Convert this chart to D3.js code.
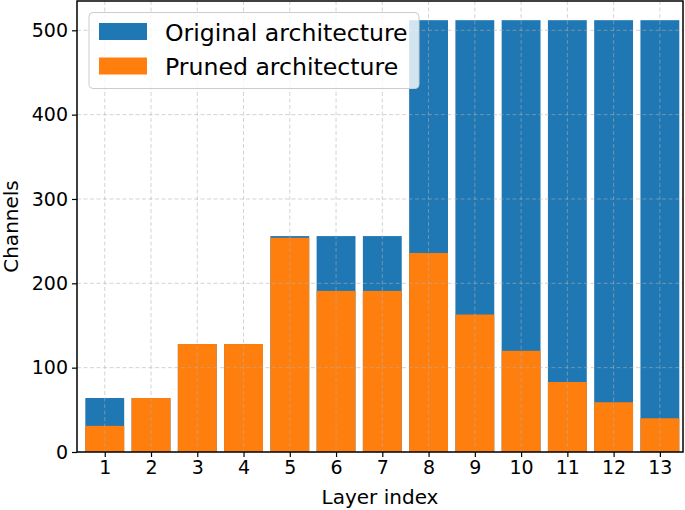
<!DOCTYPE html>
<html>
<head>
<meta charset="utf-8">
<script src="https://cdn.jsdelivr.net/npm/d3@7"></script>
<style>
  body { margin: 0; background: #fff; }
  text { font-family: "DejaVu Sans", sans-serif; }
</style>
</head>
<body>
<div id="chart"></div>
<script>
// data
const layers = [1, 2, 3, 4, 5, 6, 7, 8, 9, 10, 11, 12, 13]
const original = [64, 64, 128, 128, 256, 256, 256, 512, 512, 512, 512, 512, 512]
const pruned = [31, 64, 128, 128, 254, 191, 191, 236, 163, 120, 83, 59, 40]
const yTicks = [0, 100, 200, 300, 400, 500]
const legendLabels = ["Original architecture", "Pruned architecture"]
const colors = ["#1f77b4", "#ff7f0e"]

const width = 685, height = 510
const plotLeft = 77, plotRight = 683, plotTop = 1, plotBottom = 452

const svg = d3.select("#chart").append("svg")
    .attr("width", width)
    .attr("height", height)

const x = d3.scaleLinear().domain([0.4, 13.5]).range([plotLeft, plotRight])
const y = d3.scaleLinear().domain([0, 500]).range([plotBottom, 30.3])
const barW = (x(2) - x(1)) * 0.84

// original bars
svg.append("g").selectAll("rect")
    .data(layers)
    .join("rect")
    .attr("x", (d) => x(d) - barW / 2)
    .attr("y", (d, i) => y(original[i]))
    .attr("width", barW)
    .attr("height", (d, i) => plotBottom - y(original[i]))
    .attr("fill", colors[0])

// pruned bars on top
svg.append("g").selectAll("rect")
    .data(layers)
    .join("rect")
    .attr("x", (d) => x(d) - barW / 2)
    .attr("y", (d, i) => y(pruned[i]))
    .attr("width", barW)
    .attr("height", (d, i) => plotBottom - y(pruned[i]))
    .attr("fill", colors[1])

// grid (drawn above the bars like the original)
const grid = svg.append("g")
    .attr("stroke", "#b0b0b0")
    .attr("stroke-opacity", 0.55)
    .attr("stroke-width", 1)
    .attr("stroke-dasharray", "4,2.5")
layers.forEach(d => {
    grid.append("line")
        .attr("x1", x(d)).attr("x2", x(d))
        .attr("y1", plotTop).attr("y2", plotBottom)
})
yTicks.forEach(d => {
    grid.append("line")
        .attr("x1", plotLeft).attr("x2", plotRight)
        .attr("y1", y(d)).attr("y2", y(d))
})

// axes
const xAxis = svg.append("g")
    .attr("transform", `translate(0,${plotBottom})`)
    .call(d3.axisBottom(x).tickValues(layers).tickFormat(d3.format("d")).tickSize(5).tickPadding(4).tickSizeOuter(0))
const yAxis = svg.append("g")
    .attr("transform", `translate(${plotLeft},0)`)
    .call(d3.axisLeft(y).tickValues(yTicks).tickSize(5).tickPadding(4).tickSizeOuter(0))

for (const ax of [xAxis, yAxis]) {
    ax.select(".domain").remove()
    ax.selectAll("line").attr("stroke", "#000").attr("stroke-width", 1.2)
    ax.selectAll("text").attr("font-size", 19).attr("fill", "#000")
        .style("font-family", "DejaVu Sans")
}

// spines
svg.append("rect")
    .attr("x", plotLeft).attr("y", plotTop)
    .attr("width", plotRight - plotLeft).attr("height", plotBottom - plotTop)
    .attr("fill", "none")
    .attr("stroke", "#000")
    .attr("stroke-width", 1.5)

// axis labels
svg.append("text")
    .attr("x", 380)
    .attr("y", 504)
    .attr("text-anchor", "middle")
    .attr("font-size", 20)
    .text("Layer index")

svg.append("text")
    .attr("transform", `translate(17.5,${(plotTop + plotBottom) / 2}) rotate(-90)`)
    .attr("text-anchor", "middle")
    .attr("font-size", 20)
    .text("Channels")

// legend
const legend = svg.append("g")
legend.append("rect")
    .attr("x", 89).attr("y", 12.5)
    .attr("width", 330).attr("height", 76)
    .attr("rx", 4)
    .attr("fill", "#fff")
    .attr("fill-opacity", 0.8)
    .attr("stroke", "#cccccc")
    .attr("stroke-width", 1)

legendLabels.forEach((label, i) => {
    legend.append("rect")
        .attr("x", 99).attr("y", 23 + i * 34.5)
        .attr("width", 48).attr("height", 17)
        .attr("fill", colors[i])
    legend.append("text")
        .attr("x", 165).attr("y", 40.5 + i * 34.5)
        .attr("font-size", 23.6)
        .text(label)
})
</script>
</body>
</html>
